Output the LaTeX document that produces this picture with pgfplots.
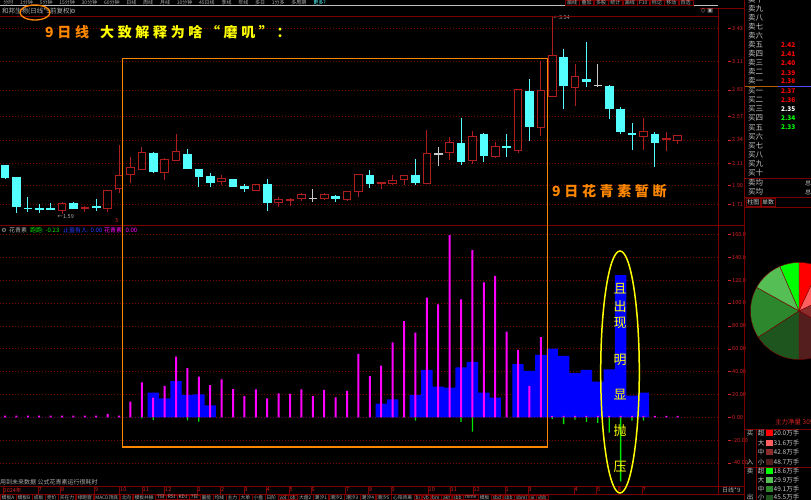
\documentclass[border=0pt]{standalone}
\usepackage{pgfplots}
\pgfplotsset{compat=1.18}
\usepackage{pgfplotstable}
\usepackage{fontspec}
\setmainfont{Noto Sans CJK SC}
\newfontfamily\dejavu{DejaVu Sans}

\definecolor{frame}{RGB}{125,0,0}
\definecolor{gridred}{RGB}{120,0,0}
\definecolor{upred}{RGB}{175,30,30}
\definecolor{dncyan}{RGB}{84,255,255}
\definecolor{flat}{RGB}{200,200,200}
\definecolor{mag}{RGB}{255,0,255}
\definecolor{blu}{RGB}{0,0,255}
\definecolor{grn}{RGB}{0,230,0}
\definecolor{orng}{RGB}{255,135,0}
\definecolor{yel}{RGB}{255,255,0}
\definecolor{lbl}{RGB}{215,35,35}
\definecolor{txtgray}{RGB}{175,175,175}
\definecolor{bookgray}{RGB}{200,200,200}
\definecolor{ubl}{RGB}{40,60,255}
\definecolor{r1}{RGB}{255,0,0}
\definecolor{r2}{RGB}{255,95,95}
\definecolor{r3}{RGB}{140,45,45}
\definecolor{r4}{RGB}{85,30,30}
\definecolor{g1}{RGB}{0,255,0}
\definecolor{g2}{RGB}{85,190,85}
\definecolor{g3}{RGB}{45,135,45}
\definecolor{g4}{RGB}{30,85,30}

\newcommand\ui{\fontsize{6}{7}\selectfont}
\newcommand\tl[1]{\rule[1.6pt]{3pt}{0.5pt}\hspace{1pt}#1}
\newcommand\notefont{\fontsize{14}{16}\selectfont\bfseries\addfontfeature{LetterSpace=26}}

% 9-day candles: index, wick low, wick high, body low, body high
\pgfplotstableread{
i wl wh bl bh
5 1.618 1.738 1.650 1.716
7 1.635 1.699 1.670 1.684
9 1.640 1.852 1.674 1.846
10 1.820 2.291 1.862 1.996
11 1.918 2.177 2.002 2.074
12 2.054 2.269 2.054 2.216
14 1.950 2.167 2.025 2.145
15 2.138 2.399 2.138 2.230
19 1.901 1.999 1.933 1.960
22 1.849 1.914 1.852 1.908
24 1.689 1.787 1.729 1.762
25 1.699 1.771 1.748 1.758
26 1.745 1.826 1.765 1.804
28 1.762 1.826 1.771 1.810
30 1.755 1.843 1.762 1.836
31 1.781 1.999 1.833 1.999
33 1.859 1.933 1.911 1.921
34 1.901 1.999 1.911 1.947
35 1.901 1.996 1.950 1.996
37 1.914 2.438 1.914 2.207
39 2.145 2.372 2.216 2.314
41 2.106 2.428 2.138 2.376
43 2.171 2.324 2.177 2.275
45 2.210 2.831 2.233 2.831
47 2.379 3.111 2.464 2.821
48 2.763 3.540 2.763 3.169
50 2.672 3.082 2.854 2.958
56 2.243 2.558 2.372 2.425
58 2.236 2.421 2.347 2.357
59 2.301 2.386 2.333 2.386
}\upc

\pgfplotstableread{
i wl wh bl bh
0 1.962 2.100 1.967 2.096
1 1.631 1.979 1.689 1.976
2 1.640 1.781 1.664 1.680
3 1.625 1.716 1.660 1.674
4 1.657 1.723 1.660 1.680
6 1.664 1.735 1.670 1.729
8 1.650 1.762 1.684 1.693
13 2.018 2.223 2.025 2.216
16 2.057 2.249 2.057 2.207
17 1.879 2.054 1.976 2.054
18 1.879 2.015 1.918 1.992
20 1.882 1.963 1.885 1.957
21 1.836 1.908 1.859 1.888
23 1.650 1.960 1.729 1.908
29 1.732 1.804 1.767 1.797
32 1.869 2.047 1.908 1.996
36 1.901 2.155 1.924 1.996
40 2.096 2.552 2.123 2.314
42 2.128 2.411 2.184 2.396
44 2.177 2.396 2.269 2.279
46 2.333 2.932 2.467 2.818
49 2.643 3.228 2.870 3.150
51 2.860 3.299 2.903 2.935
53 2.545 2.877 2.646 2.867
54 2.396 2.659 2.415 2.640
55 2.243 2.503 2.396 2.405
57 2.080 2.421 2.308 2.396
}\dnc

\pgfplotstableread{
i wl wh bl bh
27 1.738 1.859 1.766 1.776
38 2.086 2.275 2.202 2.211
52 2.860 3.079 2.869 2.879
}\flc

% indicator: index, blue block, magenta line, green drop
\pgfplotstableread{
i blue mag grn
0 0 1.5 0
1 0 1.5 0
2 0 1.5 0
3 0 1.5 0
4 0 1.5 0
5 0 1.5 0
6 0 1.5 0
7 0 1.5 0
8 0 1.5 0
9 0 2.9 0
10 0 1.5 0
11 0 13.6 0
12 0 30.6 -1
13 21.5 17.2 -2.3
14 16.6 27.4 0
15 31.7 53.0 0
16 19.5 43.1 -2.8
17 20.1 35.5 -3.8
18 10.5 28.2 0
19 0 33.2 0
20 0 24.7 0
21 0 18.6 0
22 0 24.5 0
23 0 16.6 0
24 0 21.0 0
25 0 20.4 0
26 0 24.5 0
27 0 18.6 0
28 0 23.9 0
29 0 17.5 0
30 0 23.0 0
31 0 55.4 0
32 0 36.1 0
33 11.9 45.1 0
34 15.7 65.6 0
35 0 84.2 0
36 19.5 74.0 -3
37 41.4 104.6 0
38 26.8 98.8 0
39 25.9 159.4 0
40 43.7 103.2 -4
41 48.4 146.3 -12.6
42 21.5 118.0 0
43 17.1 123.6 0
44 0 74.9 0
45 46.6 58.9 0
46 40.5 27.4 0
47 54.5 70.0 0
48 60.0 1.2 -1.5
49 53.6 1.2 -6
50 38.7 1.2 -2
51 41.4 1.2 -4
52 31.1 1.2 -5
53 42.0 1.2 -13.5
54 124.4 1.2 -56
55 18.9 1.2 -3
56 21.5 1.2 -3
57 0 1.2 0
58 0 1.2 0
59 0 1.2 0
}\ind

\pgfplotsset{
  nomark/.style={only marks, mark=*, mark size=0pt, mark options={draw=none, fill=none}, forget plot},
  vbar/.style 2 args={nomark,
    error bars/.cd, y dir=both, y explicit, error mark=none,
    error bar style={draw=#1, line width=#2}},
  hbar/.style={nomark,
    error bars/.cd, x dir=both, x explicit, error mark=none,
    error bar style={draw=#1, line width=1pt}},
}
\newcommand\pieslice[3]{\fill[#3, draw=frame, line width=0.4pt] (axis cs:0,0) -- (axis cs:{48.5*sin(#1)},{48.5*cos(#1)}) arc[start angle={90-(#1)}, end angle={90-(#2)}, radius=48.5pt] -- cycle;}

\begin{document}
\begin{tikzpicture}[x=1pt,y=1pt]
\fill[black] (0,0) rectangle (811,500);
\useasboundingbox (0,0) rectangle (811,500);
\clip (0,0) rectangle (811,500);

% ---------- price panel ----------
\begin{axis}[
  at={(0pt,278pt)}, anchor=south west, scale only axis,
  width=718pt, height=206pt,
  xmin=-0.4386, xmax=62.54, ymin=1.54, ymax=3.55,
  axis line style={draw=none}, clip=false,
  xtick=\empty,
  ytick={1.71,1.90,2.11,2.34,2.57,2.83,3.11,3.43},
  yticklabels={\tl{1.71},\tl{1.90},\tl{2.11},\tl{2.34},\tl{2.57},\tl{2.83},\tl{3.11},\tl{3.43}},
  yticklabel pos=right, ytick pos=right, major tick length=0pt,
  yticklabel style={font=\fontsize{5.5}{6}\selectfont, text=lbl, anchor=west, inner sep=0pt, xshift=10pt},
  ymajorgrids, grid style={gridred, line width=0.5pt, dash pattern=on 0.8pt off 2.2pt},
]
% falling (filled cyan) and flat candles
\addplot[vbar={dncyan}{0.9pt}] table[x=i, y expr={(\thisrow{wl}+\thisrow{wh})/2}, y error expr={(\thisrow{wh}-\thisrow{wl})/2}] {\dnc};
\addplot[vbar={flat}{0.9pt}] table[x=i, y expr={(\thisrow{wl}+\thisrow{wh})/2}, y error expr={(\thisrow{wh}-\thisrow{wl})/2}] {\flc};
\addplot[vbar={dncyan}{8.6pt}] table[x=i, y expr={(\thisrow{bl}+\thisrow{bh})/2}, y error expr={(\thisrow{bh}-\thisrow{bl})/2}] {\dnc};
\addplot[vbar={flat}{8.6pt}] table[x=i, y expr={(\thisrow{bl}+\thisrow{bh})/2}, y error expr={(\thisrow{bh}-\thisrow{bl})/2}] {\flc};
% rising (hollow red) candles: wicks outside the body, then four sides
\addplot[vbar={upred}{0.9pt}] table[x=i, y expr={(\thisrow{bh}+\thisrow{wh})/2}, y error expr={(\thisrow{wh}-\thisrow{bh})/2}] {\upc};
\addplot[vbar={upred}{0.9pt}] table[x=i, y expr={(\thisrow{wl}+\thisrow{bl})/2}, y error expr={(\thisrow{bl}-\thisrow{wl})/2}] {\upc};
\addplot[vbar={upred}{1pt}] table[x expr={\thisrow{i}-0.333}, y expr={(\thisrow{bl}+\thisrow{bh})/2}, y error expr={(\thisrow{bh}-\thisrow{bl})/2+0.005}] {\upc};
\addplot[vbar={upred}{1pt}] table[x expr={\thisrow{i}+0.333}, y expr={(\thisrow{bl}+\thisrow{bh})/2}, y error expr={(\thisrow{bh}-\thisrow{bl})/2+0.005}] {\upc};
\addplot[hbar=upred] table[x=i, y=bh, x error expr={0.377+0*\thisrow{i}}] {\upc};
\addplot[hbar=upred] table[x=i, y=bl, x error expr={0.377+0*\thisrow{i}}] {\upc};
\node[anchor=west, font=\fontsize{5.5}{6}\selectfont, text=txtgray, inner sep=0pt] at (axis cs:4.6,1.59) {←1.59};
\node[anchor=west, font=\fontsize{5.5}{6}\selectfont, text=txtgray, inner sep=0pt] at (axis cs:48.1,3.535) {←3.54};
\end{axis}

% ---------- indicator panel ----------
\begin{axis}[
  at={(0pt,14pt)}, anchor=south west, scale only axis,
  width=718pt, height=260pt,
  xmin=-0.4386, xmax=62.54, ymin=-60.1, ymax=167.3,
  axis line style={draw=none}, clip=false,
  ytick={-40,-20,0,20,40,60,80,100,120,140,160},
  yticklabels={\tl{-40.00},\tl{-20.00},\tl{0.00},\tl{20.00},\tl{40.00},\tl{60.00},\tl{80.00},\tl{100.0},\tl{120.0},\tl{140.0},\tl{160.0}},
  yticklabel pos=right, ytick pos=right,
  ytick style={draw=none},
  yticklabel style={font=\fontsize{5.5}{6}\selectfont, text=lbl, anchor=west, inner sep=0pt, xshift=2pt},
  ymajorgrids, grid style={gridred, line width=0.5pt, dash pattern=on 0.8pt off 2.2pt},
  xtick={-0.175,2.895,4.868,7.851,10.044,12.018,13.991,16.842,18.904,20.965,22.895,24.912,26.842,29.868,31.886,33.860,37.105,39.035,41.053,43.860,45.877,49.912,51.886,53.772,55.877},
  xticklabels={2024年,7,8,9,10,11,12,1,2,3,4,5,6,7,8,9,10,11,12,1,3,4,5,6,7},
  xtick pos=bottom, tick align=outside, major tick length=8pt,
  xtick style={frame, line width=0.6pt},
  xticklabel style={font=\fontsize{5.5}{6}\selectfont, text=lbl, anchor=west, inner sep=0.5pt, yshift=4pt},
]
\addplot[ybar, bar width=1, bar shift=0pt, fill=blu, draw=none, forget plot] table[x=i, y=blue] {\ind};
\addplot[ybar, bar width=2pt, bar shift=0pt, fill=mag, draw=none, forget plot] table[x=i, y=mag] {\ind};
\addplot[ybar, bar width=1.3pt, bar shift=0pt, fill=grn, draw=none, forget plot] table[x=i, y=grn] {\ind};
\end{axis}

% ---------- pie of order flow ----------
\begin{axis}[
  at={(799pt,189pt)}, anchor=center, scale only axis,
  width=100pt, height=100pt, xmin=-50, xmax=50, ymin=-50, ymax=50,
  hide axis, clip=false,
]
% buy 20.0 31.6 42.8 48.7, sell 18.6 29.9 49.1 45.5 (total 286.2)
\pieslice{0}{25.16}{r1}
\pieslice{25.16}{64.91}{r2}
\pieslice{64.91}{118.74}{r3}
\pieslice{118.74}{180}{r4}
\pieslice{0}{-23.40}{g1}
\pieslice{-23.40}{-61.01}{g2}
\pieslice{-61.01}{-122.77}{g3}
\pieslice{-122.77}{-180}{g4}
\end{axis}

% ---------- frames ----------
\draw[frame, line width=0.7pt] (0,484) -- (718,484);
\draw[frame, line width=0.7pt] (0,275) -- (744,275);
\draw[frame, line width=0.7pt] (0,14) -- (744,14);
\draw[frame, line width=0.6pt] (0,6) -- (744,6);
\draw[frame, line width=0.7pt] (718,6) -- (718,492);
\draw[frame, line width=0.7pt] (744,0) -- (744,500);
\draw[frame, line width=0.6pt] (700,492) -- (744,492);
\draw[gray!50, line width=0.4pt] (0,494.3) -- (718,494.3);

% ---------- top toolbar ----------
\coordinate (tb0) at (0,497.3);
\foreach \t [count=\k, remember=\k as \lk (initially 0)] in
  {分时,1分钟,5分钟,15分钟,30分钟,60分钟,日线,周线,月线,10分钟,45日线,季线,年线,多日,1分多,多周期}
  {\node[anchor=west, font=\fontsize{5}{5}\selectfont, text=txtgray, inner xsep=3.2pt, inner ysep=0pt] (tb\k) at (tb\lk.east) {\t};}
\node[anchor=west, font=\fontsize{5}{5}\selectfont, text=dncyan, inner xsep=3.2pt, inner ysep=0pt] at (tb16.east) {更多?};
\coordinate (tr0) at (565,497.3);
\foreach \t [count=\k, remember=\k as \lk (initially 0)] in {画线,叠加,多股,统计,画线,F10,标记,移动,自选}
  {\node[anchor=west, font=\fontsize{5}{5}\selectfont, text=txtgray, draw=frame, inner xsep=2pt, inner ysep=0.6pt] (tr\k) at (tr\lk.east) {\t};}
\node[anchor=west, font=\fontsize{6.5}{7}\selectfont, text=txtgray, inner sep=0pt] at (2,489) {和邦生物(日线*9前复权)};
\node[font=\dejavu\fontsize{6}{7}\selectfont, text=txtgray, inner sep=0pt] at (73,489) {⚙};
\node[font=\dejavu\fontsize{6}{7}\selectfont, text=txtgray, inner sep=0pt] at (707,489) {◇ ▣};
\draw[orng, line width=1.3pt] (35,487.5) ellipse[x radius=15, y radius=7.5];

% ---------- indicator title row ----------
\node[font=\dejavu\fontsize{6}{7}\selectfont, text=txtgray, inner sep=0pt] at (4,270) {⚙};
\node[anchor=west, font=\ui, text=txtgray, inner sep=0pt] at (9,270) {花青素};
\node[anchor=west, font=\ui, text=grn, inner sep=0pt] at (30,270) {跑跑: -0.23};
\node[anchor=west, font=\ui, text=ubl, inner sep=0pt] at (63,270) {止盈有人: 0.00};
\node[anchor=west, font=\ui, text=mag, inner sep=0pt] at (104,270) {花青素: 0.00};
\node[font=\fontsize{5.5}{6}\selectfont, text=lbl, inner sep=0pt] at (117,279) {5};
\node[anchor=west, font=\ui, text=txtgray, inner sep=0pt] at (0,18) {用到未来数据 公式花青素运行很耗时};
\node[anchor=west, font=\ui, text=txtgray, inner sep=0pt] at (722,10) {日线*9};

% ---------- bottom tab row ----------
\coordinate (bt0) at (0,2.8);
\foreach \t [count=\k, remember=\k as \lk (initially 0)] in
  {模板A,模板B,成板,竞价,买在力,绿跑窗,MACD顶底,北向,模板共振,7日,RSI,KDJ,7日,量能,均线,主力,大单,小盘,日阶,vol,ob,大盘2,潮汐1,潮汐2,潮汐3,潮汐4,潮汐5,心阳背离,bi,vb,bm,akt,sbb,mmv,模板,sbd,sbb,sbml,ai,vbb}
  {\node[anchor=west, font=\fontsize{4.8}{5}\selectfont, text=txtgray, draw=frame, inner xsep=1.5pt, inner ysep=0.4pt] (bt\k) at (bt\lk.east) {\t};}

% ---------- annotations ----------
\draw[orng, line width=1.2pt] (122.3,53) rectangle (547.3,441.3);
\node[anchor=west, font=\notefont, text=orng, inner sep=0pt] at (45,468) {9日线};
\node[anchor=west, font=\notefont, text=yel, inner sep=0pt] at (100,468) {大致解释为啥“磨叽”：};
\node[anchor=west, font=\notefont, text=orng, inner sep=0pt] at (552,308.3) {9日花青素暂断};
\draw[yel, line width=1.5pt] (620,128) ellipse[x radius=19.3, y radius=121];
\foreach \c/\yy in {且/211,出/193,现/177,明/140,显/105,抛/69,压/33}
  {\node[font=\fontsize{13}{14}\selectfont, text=yel, inner sep=0pt] at (620,\yy) {\c};}

% ---------- order book ----------
\foreach \c [count=\k] in {一,二,三,四,五,六,七,八,九,十}
  {\node[anchor=west, font=\fontsize{7.5}{8}\selectfont, text=bookgray, inner sep=0pt] at (748,{500-81+(\k-1)*9.0}) {卖\c};
   \node[anchor=west, font=\fontsize{7.5}{8}\selectfont, text=bookgray, inner sep=0pt] at (748,{500-91-(\k-1)*9.1}) {买\c};}
\foreach \p/\yy/\cc in {2.42/45.4/red,2.41/54.5/red,2.40/63.6/red,2.39/72.7/red,2.38/81/red,2.37/91/red,2.36/100.1/red,2.35/109.2/white,2.34/118.3/green,2.33/127.4/green}
  {\node[anchor=west, font=\fontsize{6.5}{7}\selectfont\bfseries, text=\cc, inner sep=0pt] at (781,500-\yy) {\p};}
\draw[orng!70!black, line width=0.6pt] (745,414) -- (778,414);
\draw[blu!70!white, line width=0.6pt] (778,414) -- (811,414);
\draw[frame, line width=0.6pt] (745,322) -- (811,322);
\draw[frame, line width=0.6pt] (745,303) -- (811,303);
\draw[frame, line width=0.6pt] (745,293) -- (811,293);
\node[anchor=west, font=\fontsize{7.5}{8}\selectfont, text=bookgray, inner sep=0pt] at (748,317) {卖均};
\node[anchor=west, font=\fontsize{7.5}{8}\selectfont, text=bookgray, inner sep=0pt] at (748,308) {买均};
\node[anchor=west, font=\fontsize{6}{7}\selectfont, text=bookgray, inner sep=0pt] at (805,317) {总};
\node[anchor=west, font=\fontsize{6}{7}\selectfont, text=bookgray, inner sep=0pt] at (805,308) {总};
\node[anchor=west, font=\ui, text=bookgray, draw=frame, inner sep=1.2pt] (zt) at (746,298) {柱图};
\node[anchor=west, font=\ui, text=bookgray, draw=frame, inner sep=1.2pt] at (zt.east) {单数};

% ---------- money flow legend ----------
\node[anchor=west, font=\fontsize{6.5}{7}\selectfont, text=lbl, inner sep=0pt] at (775,78.3) {主力净量 309万手};
\draw[frame, line width=0.6pt] (745,71) -- (811,71);
\draw[frame, line width=0.6pt] (745,33) -- (811,33);
\draw[frame, line width=0.6pt] (756,0) -- (756,71);
\foreach \c/\yy/\cc/\v in {超/67/r1/20.0,大/57/r2/31.6,中/48/r3/42.8,小/38/r4/48.7,
  超/29/g1/18.6,大/20/g2/29.9,中/11/g3/49.1,小/2.5/g4/45.5}
  {\node[font=\fontsize{6.5}{7}\selectfont, text=bookgray, inner sep=0pt] at (761,\yy) {\c};
   \fill[\cc] (765.5,\yy-2.8) rectangle (772.5,\yy+2.8);
   \node[anchor=west, font=\fontsize{6.5}{7}\selectfont, text=bookgray, inner sep=0pt] at (773.5,\yy) {\v 万手};}
\foreach \c/\yy in {买/67,入/38,卖/29,出/2.5}
  {\node[font=\fontsize{6.5}{7}\selectfont, text=bookgray, inner sep=0pt] at (750,\yy) {\c};}
\end{tikzpicture}
\end{document}
